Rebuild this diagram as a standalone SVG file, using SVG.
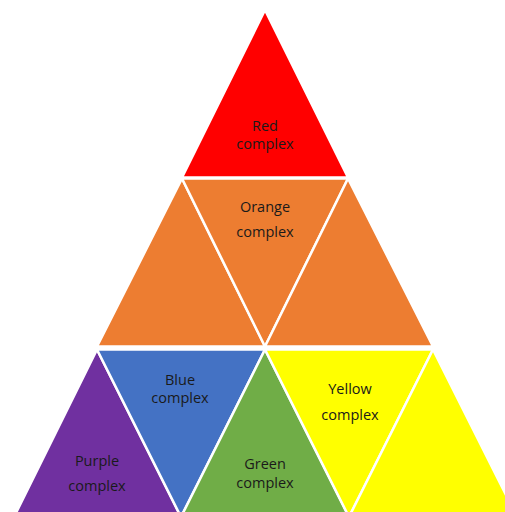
<svg xmlns="http://www.w3.org/2000/svg" width="505" height="512" viewBox="0 0 505 512">
<style>
.t{stroke:#fff;stroke-width:2.5;stroke-linejoin:miter}
.l{font-family:"Open Sans","Noto Sans","Liberation Sans",sans-serif;font-size:14.5px;fill:#1a1a1a;text-anchor:middle}
</style>
<rect width="505" height="512" fill="#fff"/>
<g id="red">
<polygon class="t" fill="#FF0000" points="265,10 182,177.5 348,177.5"/>
<text class="l" x="265" y="131">Red</text>
<text class="l" x="265" y="149">complex</text>
</g>
<g id="orange-left">
<polygon class="t" fill="#ED7D31" points="182,178.5 97,346.5 265,346.5"/>
</g>
<g id="orange">
<polygon class="t" fill="#ED7D31" points="182,178.5 348,178.5 265,346.5"/>
<text class="l" x="265" y="212">Orange</text>
<text class="l" x="265" y="237">complex</text>
</g>
<g id="orange-right">
<polygon class="t" fill="#ED7D31" points="348,178.5 265,346.5 433,346.5"/>
</g>
<g id="purple">
<polygon class="t" fill="#7030A0" points="97,349.5 14,517 181,517"/>
<text class="l" x="97" y="466">Purple</text>
<text class="l" x="97" y="491">complex</text>
</g>
<g id="blue">
<polygon class="t" fill="#4472C4" points="97,349.5 265,349.5 181,517"/>
<text class="l" x="180" y="385">Blue</text>
<text class="l" x="180" y="403">complex</text>
</g>
<g id="green">
<polygon class="t" fill="#70AD47" points="265,349.5 181,517 349,517"/>
<text class="l" x="265" y="469">Green</text>
<text class="l" x="265" y="488">complex</text>
</g>
<g id="yellow">
<polygon class="t" fill="#FFFF00" points="265,349.5 433,349.5 349,517"/>
<text class="l" x="350" y="394">Yellow</text>
<text class="l" x="350" y="420">complex</text>
</g>
<g id="yellow-right">
<polygon class="t" fill="#FFFF00" points="433,349.5 349,517 517,517"/>
</g>
<g id="connectors"></g>
</svg>
